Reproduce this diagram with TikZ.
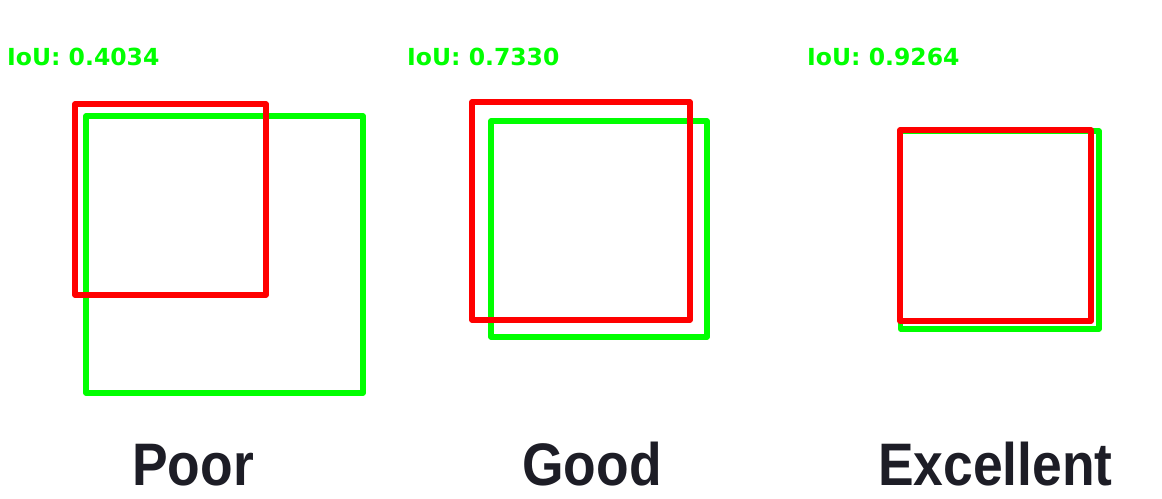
\documentclass[tikz,border=0pt]{standalone}
\usepackage{fontspec}
\setmainfont{Liberation Sans}
\newfontfamily\ioufont{DejaVu Sans}
\definecolor{boxgreen}{RGB}{0,255,0}
\definecolor{boxred}{RGB}{255,0,0}
\definecolor{labelink}{RGB}{29,29,38}
\tikzset{
  gtbox/.style={draw=boxgreen, line width=5.3pt, line join=round},
  predbox/.style={draw=boxred, line width=5.3pt, line join=round},
  ioulabel/.style={anchor=base west, inner sep=0pt, text=boxgreen,
    font=\ioufont\bfseries\fontsize{23.5}{23.5}\selectfont},
  quallabel/.style={anchor=base west, inner sep=0pt, text=labelink,
    font=\bfseries\fontsize{60}{60}\selectfont},
}
\begin{document}
\begin{tikzpicture}[x=1pt,y=-1pt]
\useasboundingbox (0,0) rectangle (1162,498);
\fill[white] (0,0) rectangle (1162,498);
% Poor
\draw[gtbox] (86,116) rectangle (363,393);
\draw[predbox] (75,104) rectangle (266,295);
% Good
\draw[gtbox] (491,121) rectangle (707,337);
\draw[predbox] (472,102) rectangle (690,320);
% Excellent
\draw[gtbox] (900.5,131) rectangle (1099,329);
\draw[predbox] (900,130) rectangle (1091,321);
% IoU labels
\node[ioulabel] (iou1) at (7,65.5) {IoU: 0.4034};
\node[ioulabel] (iou2) at (407,65.5) {IoU: 0.7330};
\node[ioulabel] (iou3) at (807,65.5) {IoU: 0.9264};
% quality labels
\node[quallabel] (poor) at (132,485) {\scalebox{0.89}[1]{Poor}};
\node[quallabel] (good) at (522,485) {\scalebox{0.89}[1]{Good}};
\node[quallabel] (excellent) at (878,485) {\scalebox{0.89}[1]{Excellent}};
\end{tikzpicture}
\end{document}
